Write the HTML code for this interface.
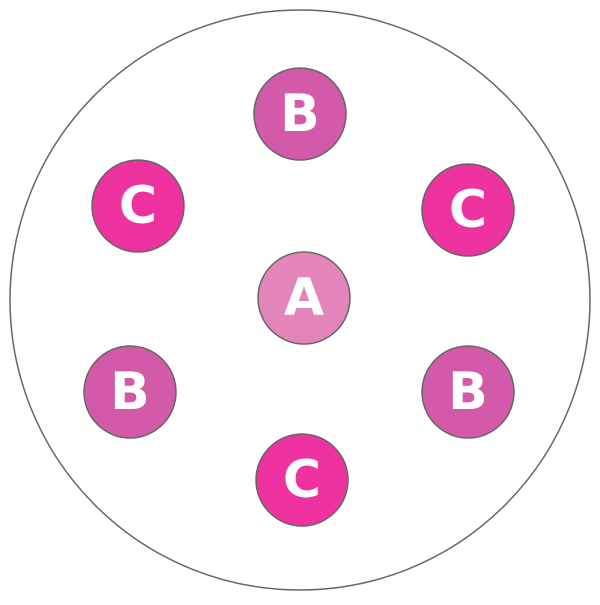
<!DOCTYPE html>
<html><head><meta charset="utf-8"><style>html,body{margin:0;padding:0;background:#fff}</style></head>
<body>
<svg width="600" height="600" viewBox="0 0 600 600" xmlns="http://www.w3.org/2000/svg">
<circle cx="300" cy="300" r="290" fill="#fff" stroke="#666" stroke-width="1.5"/>
<g stroke="#666" stroke-width="1.5">
<circle cx="300" cy="114" r="46" fill="#d35aa8"/>
<circle cx="138" cy="206" r="46" fill="#ee33a0"/>
<circle cx="468" cy="210" r="46" fill="#ee33a0"/>
<circle cx="304" cy="298" r="46" fill="#e385bb"/>
<circle cx="130" cy="392" r="46" fill="#d35aa8"/>
<circle cx="468" cy="392" r="46" fill="#d35aa8"/>
<circle cx="302" cy="480" r="46" fill="#ee33a0"/>
</g>
<g fill="#fff" font-family="DejaVu Sans, sans-serif" font-weight="bold" font-size="52" text-anchor="middle" dominant-baseline="central">
<text x="300" y="114">B</text>
<text x="138" y="206">C</text>
<text x="468" y="210">C</text>
<text x="304" y="298">A</text>
<text x="130" y="392">B</text>
<text x="468" y="392">B</text>
<text x="302" y="480">C</text>
</g>
</svg>
</body></html>
